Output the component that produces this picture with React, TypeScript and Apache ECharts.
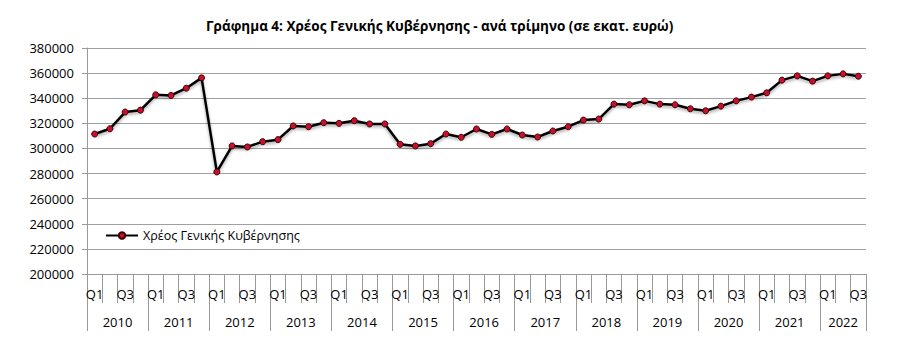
import React, { useEffect, useRef } from "react";
import * as echarts from "echarts";

const years = ["2010", "2011", "2012", "2013", "2014", "2015", "2016", "2017", "2018", "2019", "2020", "2021", "2022"];
const quarterNames = ["Q1", "Q2", "Q3", "Q4"];
const quartersPerYear = [4, 4, 4, 4, 4, 4, 4, 4, 4, 4, 4, 4, 3];

const debtValues = [
  311500, 315700, 329000, 330500,
  342700, 342200, 348000, 356200,
  281300, 302000, 301200, 305400,
  307000, 317900, 317300, 320500,
  320000, 322100, 319500, 319500,
  303300, 302000, 303800, 311500,
  308900, 315500, 311200, 315500,
  310700, 309100, 313900, 317300,
  322600, 323400, 335300, 334800,
  337900, 335300, 334800, 331600,
  330000, 333700, 337900, 340900,
  344300, 354400, 357800, 353600,
  357800, 359400, 357500,
];

const yTicks = { min: 200000, max: 380000, interval: 20000 };
const seriesName = "Χρέος Γενικής Κυβέρνησης";
const titleText = "Γράφημα 4: Χρέος Γενικής Κυβέρνησης - ανά τρίμηνο (σε εκατ. ευρώ)";

export default function App() {
  const ref = useRef<HTMLDivElement>(null);
  useEffect(() => {
    if (!ref.current) return;
    const chart = echarts.init(ref.current, null, { renderer: "svg" });

    const quarterLabels: string[] = [];
    quartersPerYear.forEach((n) => {
      for (let q = 0; q < n; q++) quarterLabels.push(quarterNames[q]);
    });
    const total = quarterLabels.length;
    const halfCats: string[] = [];
    for (let i = 0; i <= total * 2; i++) halfCats.push("");
    const yearBoundaries = new Set<number>();
    let acc = 0;
    yearBoundaries.add(0);
    quartersPerYear.forEach((n, yi) => {
      const center = acc * 2 + n;
      halfCats[center] = years[yi];
      acc += n;
      yearBoundaries.add(acc * 2);
    });

    const font = "'Open Sans', sans-serif";
    chart.setOption({
      animation: false,
      title: {
        text: titleText,
        left: 201,
        top: 14,
        textStyle: { fontFamily: font, fontSize: 13.5, fontWeight: "bold", color: "#000" },
      },
      legend: {
        left: 100,
        top: 224,
        itemWidth: 32,
        itemHeight: 8,
        itemGap: 4,
        textStyle: { fontFamily: font, fontSize: 12.5, color: "#000" },
        data: [seriesName],
      },
      grid: { left: 87, right: 37, top: 48, bottom: 77, containLabel: false },
      xAxis: [
        {
          type: "category",
          data: quarterLabels,
          boundaryGap: true,
          position: "bottom",
          axisLine: { lineStyle: { color: "#999", width: 1 } },
          axisTick: { show: true, interval: 0, length: 29, lineStyle: { color: "#999" } },
          axisLabel: {
            interval: (_i: number, v: string) => v === "Q1" || v === "Q3",
            margin: 13,
            fontFamily: font,
            fontSize: 13,
            color: "#000",
          },
          splitLine: { show: false },
        },
        {
          type: "category",
          data: halfCats,
          boundaryGap: false,
          position: "bottom",
          axisLine: { show: false },
          axisTick: {
            show: true,
            interval: (i: number) => yearBoundaries.has(i),
            length: 57,
            lineStyle: { color: "#999" },
          },
          axisLabel: {
            interval: (i: number) => halfCats[i] !== "",
            margin: 41,
            fontFamily: font,
            fontSize: 13,
            color: "#000",
          },
          splitLine: { show: false },
        },
      ],
      yAxis: {
        type: "value",
        min: yTicks.min,
        max: yTicks.max,
        interval: yTicks.interval,
        axisLine: { show: true, lineStyle: { color: "#999" } },
        axisTick: { show: true, length: 5, lineStyle: { color: "#999" } },
        axisLabel: {
          fontFamily: font,
          fontSize: 13,
          color: "#000",
          margin: 13,
          formatter: (v: number) => String(v),
        },
        splitLine: { show: true, lineStyle: { color: "#a0a0a0", width: 1 } },
      },
      series: [
        {
          name: seriesName,
          type: "line",
          xAxisIndex: 0,
          data: debtValues,
          symbol: "circle",
          symbolSize: 6,
          lineStyle: {
            color: "#000",
            width: 2.5,
            shadowColor: "rgba(0,0,0,0.35)",
            shadowBlur: 3,
            shadowOffsetY: 2,
          },
          itemStyle: { color: "#c8102e", borderColor: "#3a0000", borderWidth: 1 },
        },
      ],
    });
    return () => chart.dispose();
  }, []);
  return <div ref={ref} style={{ width: 903, height: 351, marginLeft: -8, marginTop: -8 }} />;
}
